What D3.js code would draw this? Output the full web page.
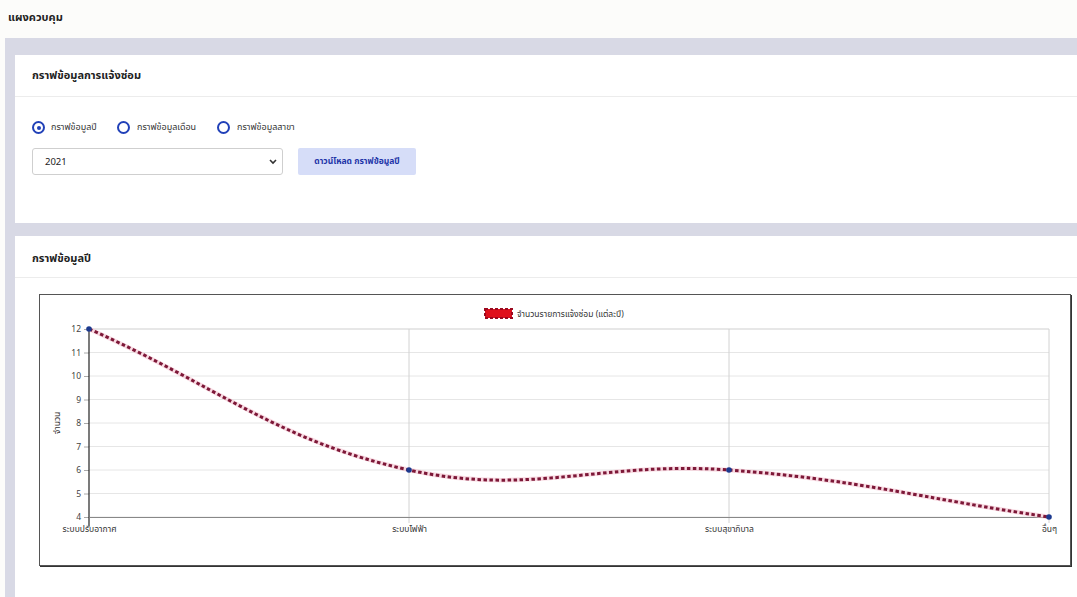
<!DOCTYPE html>
<html lang="th">
<head>
<meta charset="utf-8">
<script src="https://cdn.jsdelivr.net/npm/d3@7/dist/d3.min.js"></script>
<style>
  html, body { margin:0; padding:0; }
  body { width:1077px; height:597px; position:relative; overflow:hidden; background:#fcfcfa;
         font-family:"Noto Sans Thai","Noto Sans","DejaVu Sans",sans-serif; color:#222; }
  .abs { position:absolute; }
  .h-title { left:8px; top:9px; font-size:11px; font-weight:bold; color:#222; }
  .content { left:5px; top:38px; right:0; bottom:0; background:#d8d9e5; }
  .card { background:#fff; left:15px; right:0; }
  .card-title { font-size:11px; font-weight:bold; color:#222; }
  .sep { height:1px; background:#ececec; left:15px; right:0; }
  .radio { width:9px; height:9px; border:2px solid #2141b8; border-radius:50%; box-sizing:content-box; }
  .radio.on::after { content:""; position:absolute; left:2.5px; top:2.5px; width:4px; height:4px; background:#2141b8; border-radius:50%; }
  .rlabel { font-size:9px; color:#333; }
  .select { left:32px; top:148px; width:251px; height:27px; border:1px solid #cfcfcf; border-radius:3px; box-sizing:border-box; background:#fff; }
  .select span { position:absolute; left:12px; top:6px; font-size:9.5px; color:#222; }
  .btn { left:298px; top:148px; width:118px; height:27px; background:#d6ddf8; border-radius:2px;
         font-size:8.5px; font-weight:bold; color:#1f35a8; text-align:center; line-height:27px; }
  .chartbox { left:39px; top:294px; width:1032px; height:272px; border:1px solid #555; box-sizing:border-box;
              box-shadow:1px 1px 0 #333; background:#fff; }
  svg text { font-family:"Noto Sans Thai","Noto Sans","DejaVu Sans",sans-serif; }
</style>
</head>
<body>
<div class="abs h-title">แผงควบคุม</div>
<div class="abs content"></div>
<div class="abs card" style="top:55px;height:168px;"></div>
<div class="abs card-title" style="left:32px;top:67px;">กราฟข้อมูลการแจ้งซ่อม</div>
<div class="abs sep" style="top:96px;"></div>
<div class="abs radio on" style="left:32px;top:121px;"></div>
<div class="abs rlabel" style="left:51px;top:120px;">กราฟข้อมูลปี</div>
<div class="abs radio" style="left:117px;top:121px;"></div>
<div class="abs rlabel" style="left:137px;top:120px;">กราฟข้อมูลเดือน</div>
<div class="abs radio" style="left:217px;top:121px;"></div>
<div class="abs rlabel" style="left:237px;top:120px;">กราฟข้อมูลสาขา</div>
<div class="abs select"><span>2021</span>
  <svg class="abs" style="left:236px;top:10px" width="8" height="6"><path d="M1 1 L4 4 L7 1" fill="none" stroke="#333" stroke-width="1.6"/></svg>
</div>
<div class="abs btn">ดาวน์โหลด กราฟข้อมูลปี</div>

<div class="abs card" style="top:236px;bottom:0;"></div>
<div class="abs card-title" style="left:32px;top:250px;">กราฟข้อมูลปี</div>
<div class="abs sep" style="top:277px;"></div>
<div class="abs chartbox" id="chart"></div>

<script>
// ---- data ----
const categories = ["ระบบปรับอากาศ", "ระบบไฟฟ้า", "ระบบสุขาภิบาล", "อื่นๆ"];
const counts = [12, 6, 6, 4];
const yTicks = [4, 5, 6, 7, 8, 9, 10, 11, 12];
const seriesLabel = "จำนวนรายการแจ้งซ่อม (แต่ละปี)";
const yAxisTitle = "จำนวน";

// ---- layout ----
const W = 1030, H = 270;
const m = { left: 49, top: 34, right: 21, bottom: 48 };
const iw = W - m.left - m.right, ih = H - m.top - m.bottom;

const svg = d3.select("#chart").append("svg")
  .attr("width", W).attr("height", H).style("position", "absolute").style("left", 0).style("top", 0);
const g = svg.append("g").attr("transform", `translate(${m.left},${m.top})`);

const x = d3.scalePoint().domain(categories).range([0, iw]);
const y = d3.scaleLinear().domain([d3.min(yTicks), d3.max(yTicks)]).range([ih, 0]);

// horizontal grid
g.append("g").selectAll("line").data(yTicks).join("line")
  .attr("x1", 0).attr("x2", iw).attr("y1", d => y(d)).attr("y2", d => y(d))
  .attr("stroke", d => d === d3.max(yTicks) ? "#cfcfcf" : "#e6e6e6").attr("stroke-width", 1);
// vertical grid
g.append("g").selectAll("line").data(categories.slice(1)).join("line")
  .attr("x1", d => x(d)).attr("x2", d => x(d)).attr("y1", 0).attr("y2", ih + 6)
  .attr("stroke", "#d2d2d2").attr("stroke-width", 1);

// y axis
const yAx = g.append("g").call(d3.axisLeft(y).tickValues(yTicks).tickSize(5).tickPadding(3).tickFormat(d3.format("d")));
yAx.select(".domain").remove();
yAx.selectAll(".tick line").attr("stroke", "#aaa");
yAx.selectAll("text").attr("font-size", 8.5).attr("fill", "#444");
g.append("line").attr("x1", 0).attr("x2", 0).attr("y1", 0).attr("y2", ih + 9).attr("stroke", "#222").attr("stroke-width", 1.2);

// x axis
const xAx = g.append("g").attr("transform", `translate(0,${ih})`)
  .call(d3.axisBottom(x).tickSize(0).tickPadding(9));
xAx.select(".domain").attr("stroke", "#888");
xAx.selectAll("text").attr("font-size", 8.5).attr("fill", "#333");

// y title
g.append("text").attr("transform", `translate(${-29},${ih / 2}) rotate(-90)`)
  .attr("text-anchor", "middle").attr("font-size", 8.5).attr("fill", "#333").text(yAxisTitle);

// Chart.js-like spline (tension 0.4)
const pts = categories.map((c, i) => [x(c), y(counts[i])]);
function splinePath(p, t) {
  const path = d3.path();
  const ctrl = p.map((cur, i) => {
    const prev = p[Math.max(0, i - 1)], next = p[Math.min(p.length - 1, i + 1)];
    const d01 = Math.hypot(cur[0] - prev[0], cur[1] - prev[1]);
    const d12 = Math.hypot(next[0] - cur[0], next[1] - cur[1]);
    let s01 = d01 / (d01 + d12), s12 = d12 / (d01 + d12);
    if (!isFinite(s01)) s01 = 0; if (!isFinite(s12)) s12 = 0;
    const fa = t * s01, fb = t * s12;
    return {
      prev: [cur[0] - fa * (next[0] - prev[0]), cur[1] - fa * (next[1] - prev[1])],
      next: [cur[0] + fb * (next[0] - prev[0]), cur[1] + fb * (next[1] - prev[1])]
    };
  });
  path.moveTo(p[0][0], p[0][1]);
  for (let i = 1; i < p.length; i++) {
    const a = ctrl[i - 1].next, b = ctrl[i].prev;
    path.bezierCurveTo(a[0], a[1], b[0], b[1], p[i][0], p[i][1]);
  }
  return path.toString();
}
const dPath = splinePath(pts, 0.4);
g.append("path").attr("d", dPath).attr("fill", "none").attr("stroke", "#f4b8c8").attr("stroke-width", 4.5).attr("opacity", 0.5);
g.append("path").attr("d", dPath).attr("fill", "none").attr("stroke", "#7d1838")
  .attr("stroke-width", 3).attr("stroke-dasharray", "3.5,2.5");

// points
g.append("g").selectAll("circle").data(counts).join("circle")
  .attr("cx", (d, i) => x(categories[i])).attr("cy", d => y(d)).attr("r", 2.8).attr("fill", "#1c3a8f");

// legend
const lg = svg.append("g").attr("transform", `translate(445,14)`);
lg.append("rect").attr("width", 27).attr("height", 9).attr("fill", "#e0101c")
  .attr("stroke", "#9a0a20").attr("stroke-width", 2).attr("stroke-dasharray", "3,2");
lg.append("text").attr("x", 32).attr("y", 8).attr("font-size", 8.5).attr("fill", "#333").text(seriesLabel);
</script>
</body>
</html>
